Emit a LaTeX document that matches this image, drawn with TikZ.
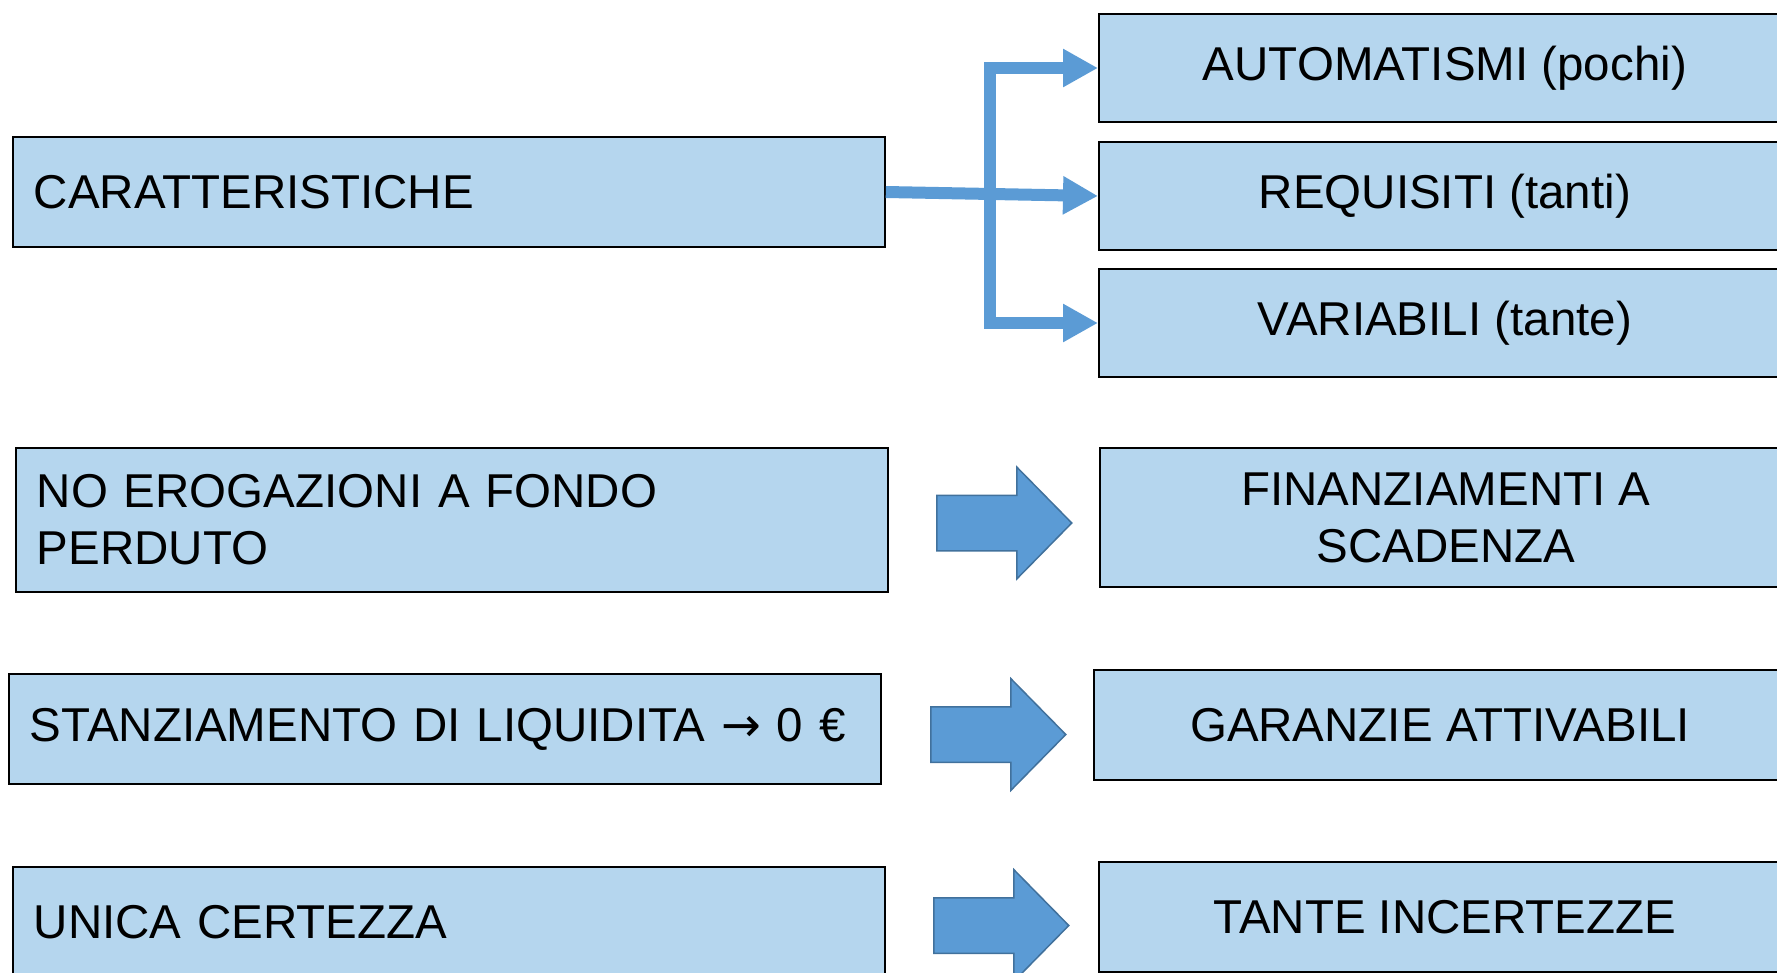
\documentclass[tikz,border=0pt]{standalone}
\usepackage{fontspec}
\setmainfont{Liberation Sans}
\newfontfamily\arrowfont{DejaVu Sans}
\usetikzlibrary{arrows.meta,shapes.arrows}
\definecolor{boxblue}{RGB}{181,214,238}
\definecolor{arrowblue}{RGB}{91,155,213}
\definecolor{arrowedge}{RGB}{65,113,156}
\begin{document}
\begin{tikzpicture}[
  x=1pt, y=-1pt,
  block/.style={rectangle, draw, line width=1.8pt, fill=boxblue, minimum height=110pt, inner sep=0pt, font=\fontsize{47.5}{57}\selectfont},
  leftblock/.style={block, anchor=west, text width=830pt, align=left, inner xsep=21pt},
  rightblock/.style={block, anchor=west, minimum width=692pt, align=center},
  bigarrow/.style={single arrow, anchor=tail, draw=arrowedge, fill=arrowblue, line width=1.5pt, inner xsep=0pt, inner ysep=27pt, minimum height=135pt, single arrow head extend=28pt, single arrow tip angle=91},
  conn/.style={draw=arrowblue, line width=12pt, -{Triangle[length=35pt,width=36pt]}}
]
\useasboundingbox (0,0) rectangle (1777,972);

\node[leftblock] (carat) at (12,192) {CARATTERISTICHE};
\node[leftblock, minimum height=144pt] (noerog) at (15,520) {NO EROGAZIONI A FONDO\\PERDUTO};
\node[leftblock] (stanz) at (8,729) {STANZIAMENTO DI LIQUIDITA {\arrowfont →} 0 €};
\node[leftblock] (unica) at (12,922) {UNICA CERTEZZA};

\node[rightblock, minimum height=108pt] (autom) at (1098,68) {AUTOMATISMI (pochi)};
\node[rightblock, minimum height=108pt] (requis) at (1098,196) {REQUISITI (tanti)};
\node[rightblock, minimum height=108pt] (variab) at (1098,323) {VARIABILI (tante)};
\node[rightblock, minimum height=139pt] (finanz) at (1099,517.5) {FINANZIAMENTI A\\SCADENZA};
\node[rightblock] (garanz) at (1093,725) {GARANZIE ATTIVABILI};
\node[rightblock] (tante) at (1098,917) {TANTE INCERTEZZE};

\node[bigarrow] (arr1) at (936,523) {};
\node[bigarrow] (arr2) at (930,734.5) {};
\node[bigarrow] (arr3) at (933,925.5) {};

\coordinate (fork) at (990,192);
\draw[conn] (carat.east) -- (requis.west);
\draw[conn] (fork) |- (autom.west);
\draw[conn] (fork) |- (variab.west);
\end{tikzpicture}
\end{document}
